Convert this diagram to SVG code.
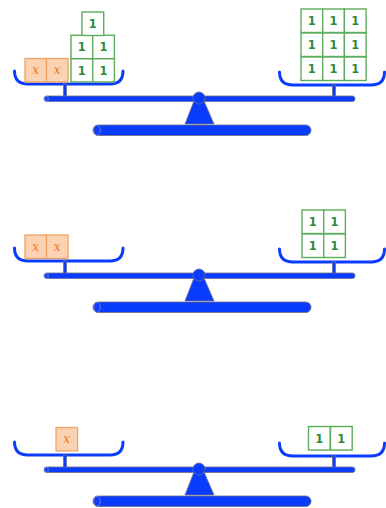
<svg xmlns="http://www.w3.org/2000/svg" xmlns:xlink="http://www.w3.org/1999/xlink" width="386" height="508" viewBox="0 0 386 508">
  <style>
    .steel { fill: #0a3cff; stroke: #6b6f8c; stroke-width: 0.8; }
    .pan { fill: none; stroke: #0a3cff; stroke-width: 3; stroke-linecap: round; }
    .cap { fill: #0a3cff; stroke: #8a8fb0; stroke-width: 0.8; }
    .one rect { fill: #ffffff; stroke: #5cad5c; stroke-width: 1.4; }
    .one text { fill: #2a8a3a; font-family: "DejaVu Sans", sans-serif; font-weight: bold; font-size: 11.5px; text-anchor: middle; }
    .ex rect { fill: #fcd3b2; stroke: #f0a466; stroke-width: 1.3; }
    .ex text { fill: #e8782a; font-family: "DejaVu Serif", serif; font-style: italic; font-size: 12px; text-anchor: middle; }
  </style>
  <defs>
    <!-- balance frame: pans, stems, beam, pivot and base -->
    <g id="frame">
      <path class="pan" d="M14.5,71 Q14.5,84 28,84 H110 Q123,84 123,71"/>
      <rect class="steel" x="63.5" y="84" width="3" height="12.5"/>
      <path class="pan" d="M279.5,72 Q279.5,85 293,85 H371 Q384.5,85 384.5,72"/>
      <rect class="steel" x="332.5" y="85" width="3" height="11.5"/>
      <rect class="steel" x="44" y="96" width="311" height="5.5" rx="2.7"/>
      <ellipse class="cap" cx="46.5" cy="98.75" rx="1.8" ry="2.6"/>
      <polygon class="steel" points="194,101 204,101 214,124 185,124"/>
      <circle class="steel" cx="199" cy="98" r="6"/>
      <rect class="steel" x="93" y="125" width="218" height="10.5" rx="5.2"/>
      <ellipse class="cap" cx="97" cy="130.25" rx="3.2" ry="5"/>
    </g>
    <g id="one" class="one">
      <rect x="0" y="0" width="21.7" height="23.5"/>
      <text x="10.85" y="16.2">1</text>
    </g>
    <g id="ex" class="ex">
      <rect x="0" y="0" width="21.5" height="23.5"/>
      <text x="10.75" y="15.8">x</text>
    </g>
  </defs>

  <!-- top balance: 2x + 5 = 9 -->
  <g id="balance-1">
    <use xlink:href="#frame"/>
    <g id="left-1">
      <use xlink:href="#ex" x="25" y="58.5"/>
      <use xlink:href="#ex" x="46.5" y="58.5"/>
      <use xlink:href="#one" x="71" y="58.5"/>
      <use xlink:href="#one" x="92.7" y="58.5"/>
      <use xlink:href="#one" x="71" y="35.2"/>
      <use xlink:href="#one" x="92.7" y="35.2"/>
      <use xlink:href="#one" x="82" y="12"/>
    </g>
    <g id="right-1">
      <use xlink:href="#one" x="301" y="9"/>
      <use xlink:href="#one" x="322.7" y="9"/>
      <use xlink:href="#one" x="344.4" y="9"/>
      <use xlink:href="#one" x="301" y="33"/>
      <use xlink:href="#one" x="322.7" y="33"/>
      <use xlink:href="#one" x="344.4" y="33"/>
      <use xlink:href="#one" x="301" y="57"/>
      <use xlink:href="#one" x="322.7" y="57"/>
      <use xlink:href="#one" x="344.4" y="57"/>
    </g>
  </g>

  <!-- middle balance: 2x = 4 -->
  <g id="balance-2">
    <use xlink:href="#frame" y="177"/>
    <g id="left-2">
      <use xlink:href="#ex" x="25" y="235"/>
      <use xlink:href="#ex" x="46.5" y="235"/>
    </g>
    <g id="right-2">
      <use xlink:href="#one" x="302" y="210"/>
      <use xlink:href="#one" x="323.7" y="210"/>
      <use xlink:href="#one" x="302" y="234"/>
      <use xlink:href="#one" x="323.7" y="234"/>
    </g>
  </g>

  <!-- bottom balance: x = 2 -->
  <g id="balance-3">
    <use xlink:href="#frame" y="371"/>
    <g id="left-3">
      <use xlink:href="#ex" x="56" y="427.5"/>
    </g>
    <g id="right-3">
      <use xlink:href="#one" x="308.5" y="426.5"/>
      <use xlink:href="#one" x="330.5" y="426.5"/>
    </g>
  </g>
</svg>
